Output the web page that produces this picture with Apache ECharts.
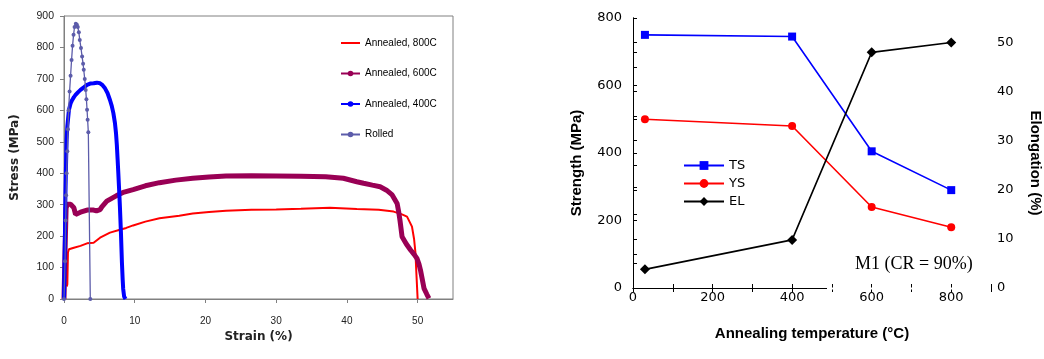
<!DOCTYPE html>
<html><head><meta charset="utf-8">
<script src="https://cdn.jsdelivr.net/npm/echarts@6/dist/echarts.min.js"></script>
<style>html,body{margin:0;padding:0;background:#fff}#c{width:1044px;height:359px}</style>
</head><body><div id="c"></div>
<script>
// ---- Left chart: stress-strain curves ----
const strain800 = [0.4, 0.47, 0.56, 0.7, 1.4, 2.33, 3.26, 4.19, 5.1, 6.5, 7.9, 8.8, 9.77, 11.5, 13.5, 16.3, 18.2, 20.5, 22.9, 26.5, 30, 33.5, 37.6, 41.4, 44.5, 46.6, 47.7, 48.5, 49.2, 49.5, 49.7, 49.8, 50.0];
const stress800 = [40, 47, 148, 158, 163, 169, 177, 179, 195, 211, 220, 226, 234, 246, 257, 265, 272, 277, 281, 284, 285, 287, 290, 286, 284, 278, 270, 262, 230, 190, 145, 92, 0];
const strain600 = [0, 0.1, 0.2, 0.3, 0.47, 0.93, 1.2, 1.4, 1.63, 2.33, 3.26, 4.19, 4.6, 4.88, 5.1, 5.35, 6.05, 7.44, 8.5, 9.77, 11.5, 13.5, 15.8, 18.2, 20.5, 22.9, 26.5, 30, 33.5, 37, 39.5, 41.4, 42.35, 43.6, 44.7, 45.6, 46.4, 47.1, 47.3, 47.5, 47.8, 48.4, 49, 49.5, 49.9, 50.2, 50.4, 50.9, 51.3, 51.6];
const stress600 = [0, 100, 200, 290, 301, 301, 296, 290, 269, 276, 283, 283, 280, 276, 284, 293, 311, 329, 340, 348, 360, 370, 378, 384, 388, 391, 392, 391, 390, 389, 384, 373, 368, 362, 357, 346, 331, 304, 280, 251, 198, 175, 156, 142, 129, 110, 92, 34, 15, 2];
const strain400 = [0, 0.09, 0.14, 0.2, 0.28, 0.37, 0.47, 0.7, 0.93, 1.16, 1.4, 1.63, 2.0, 2.33, 2.8, 3.26, 3.7, 4.19, 4.65, 5.1, 5.45, 5.8, 6.15, 6.5, 6.75, 6.98, 7.2, 7.35, 7.47, 7.58, 7.68, 7.77, 7.9, 8.05, 8.19, 8.3, 8.37, 8.5, 8.7];
const stress400 = [0, 0, 211, 330, 422, 507, 549, 602, 622, 633, 642, 649, 658, 665, 673, 681, 685, 686, 688, 686, 680, 670, 655, 633, 614, 591, 560, 528, 490, 444, 400, 359, 296, 211, 116, 60, 32, 8, 0];
const strainRolled = [0, 0.15, 0.23, 0.3, 0.37, 0.47, 0.56, 0.65, 0.79, 0.93, 1.07, 1.21, 1.35, 1.49, 1.67, 1.82, 1.95, 2.1, 2.23, 2.4, 2.56, 2.7, 2.79, 2.93, 3.07, 3.17, 3.26, 3.34, 3.44, 3.72];
const stressRolled = [0, 120, 250, 330, 400, 470, 540, 600, 660, 710, 760, 805, 840, 865, 875, 872, 865, 848, 824, 798, 771, 748, 729, 700, 665, 635, 602, 570, 530, 0];
const leftNames = ['Annealed, 800C', 'Annealed, 600C', 'Annealed, 400C', 'Rolled'];

// ---- Right chart: properties vs annealing temperature ----
const temps = [30, 400, 600, 800];
const tsValues = [750, 745, 405, 290];
const ysValues = [500, 480, 240, 180];
const elValues = [3.8, 9.8, 48, 50];
const rightNames = ['TS', 'YS', 'EL'];

const zip = (xs, ys) => xs.map((x, i) => [x, ys[i]]);

const sans = 'Liberation Sans, Arial, sans-serif';
const wide = 'DejaVu Sans, sans-serif';
const gray = '#808080';

const chart = echarts.init(document.getElementById('c'), null, {renderer: 'canvas'});
chart.setOption({
  animation: false,
  backgroundColor: '#fff',
  grid: [
    {left: 64, top: 16, right: 591, bottom: 60, show: true, borderColor: gray, borderWidth: 1},
    {left: 633, top: 18, right: 51, bottom: 71, show: false}
  ],
  xAxis: [
    {gridIndex: 0, type: 'value', min: 0, max: 55, interval: 10,
     name: 'Strain (%)', nameLocation: 'middle', nameGap: 31,
     nameTextStyle: {fontFamily: wide, fontWeight: 'bold', fontSize: 12, color: '#222'},
     axisLine: {lineStyle: {color: gray}}, axisTick: {show: true, length: 4, lineStyle: {color: gray}},
     axisLabel: {fontFamily: sans, fontSize: 10, color: '#222', margin: 17, showMaxLabel: false,
                 formatter: v => (v % 10 === 0 ? v : '')},
     splitLine: {show: false}},
    {gridIndex: 1, type: 'value', min: 0, max: 900, interval: 100,
     name: 'Annealing temperature (\u00b0C)', nameLocation: 'middle', nameGap: 38,
     nameTextStyle: {fontFamily: sans, fontWeight: 'bold', fontSize: 15, color: '#000'},
     axisLine: {lineStyle: {color: '#000', width: 1}}, axisTick: {inside: true, length: 4, lineStyle: {color: '#000'}},
     axisLabel: {fontFamily: wide, fontSize: 13, color: '#000', margin: 3,
                 formatter: v => (v % 200 === 0 && v <= 800 ? v : '')},
     splitLine: {show: false}},
    {gridIndex: 1, type: 'value', min: 0, max: 900, interval: 100, position: 'top',
     axisLine: {lineStyle: {color: '#000', width: 1}}, axisTick: {inside: true, length: 4, lineStyle: {color: '#000'}},
     axisLabel: {show: false}, splitLine: {show: false}}
  ],
  yAxis: [
    {gridIndex: 0, type: 'value', min: 0, max: 900, interval: 100,
     name: 'Stress (MPa)', nameLocation: 'middle', nameGap: 43,
     nameTextStyle: {fontFamily: wide, fontWeight: 'bold', fontSize: 12, color: '#222'},
     axisLine: {show: true, lineStyle: {color: gray}}, axisTick: {show: true, length: 4, lineStyle: {color: gray}},
     axisLabel: {fontFamily: sans, fontSize: 10.5, color: '#222', margin: 10},
     splitLine: {show: false}},
    {gridIndex: 1, type: 'value', min: 0, max: 800, interval: 100,
     name: 'Strength (MPa)', nameLocation: 'middle', nameGap: 49,
     nameTextStyle: {fontFamily: sans, fontWeight: 'bold', fontSize: 15, color: '#000', padding: [0, 20, 0, 0]},
     axisLine: {show: true, lineStyle: {color: '#000', width: 1}}, axisTick: {inside: true, length: 4, lineStyle: {color: '#000'}},
     axisLabel: {fontFamily: wide, fontSize: 13, color: '#000', margin: 11,
                 formatter: v => (v % 200 === 0 ? v : '')},
     splitLine: {show: false}},
    {gridIndex: 1, type: 'value', min: 0, max: 55, interval: 5, position: 'right',
     name: 'Elongation (%)', nameLocation: 'middle', nameGap: 37, nameRotate: -90,
     nameTextStyle: {fontFamily: sans, fontWeight: 'bold', fontSize: 15, color: '#000', padding: [0, 0, 0, 20]},
     axisLine: {show: true, lineStyle: {color: '#000', width: 1}}, axisTick: {length: 4, lineStyle: {color: '#000'}},
     axisLabel: {fontFamily: wide, fontSize: 13, color: '#000', margin: 6, showMaxLabel: false,
                 formatter: v => (v % 10 === 0 ? v : '')},
     splitLine: {show: false}}
  ],
  legend: [
    {data: [{name: leftNames[0], icon: 'path://M0,0H19V2H0Z'}, leftNames[1], leftNames[2], leftNames[3]],
     orient: 'vertical', left: 340, top: 38, padding: 0, itemWidth: 19, itemHeight: 7, itemGap: 20.5,
     textStyle: {fontFamily: sans, fontSize: 10, color: '#000'}},
    {data: rightNames, orient: 'vertical', left: 683, top: 159, padding: 0, itemWidth: 40, itemHeight: 11, itemGap: 5,
     textStyle: {fontFamily: wide, fontSize: 13, color: '#000'}}
  ],
  graphic: [
    {type: 'rect', left: 827, top: 287.6, shape: {width: 164, height: 1.8}, style: {fill: '#fff'}, z: 100},
    {type: 'text', left: 855, top: 255,
     style: {text: 'M1 (CR = 90%)', font: '18px "Liberation Serif", "Times New Roman", serif', fill: '#000'}}
  ],
  series: [
    {name: leftNames[0], type: 'line', xAxisIndex: 0, yAxisIndex: 0, data: zip(strain800, stress800),
     symbol: 'none', lineStyle: {color: '#ff0000', width: 2}, itemStyle: {color: '#ff0000'}, z: 2},
    {name: leftNames[1], type: 'line', xAxisIndex: 0, yAxisIndex: 0, data: zip(strain600, stress600),
     symbol: 'circle', symbolSize: 3, showSymbol: false, lineStyle: {color: '#990055', width: 5}, itemStyle: {color: '#990055'}, z: 3},
    {name: leftNames[2], type: 'line', xAxisIndex: 0, yAxisIndex: 0, data: zip(strain400, stress400),
     symbol: 'circle', symbolSize: 3, showSymbol: false, lineStyle: {color: '#0000ff', width: 4}, itemStyle: {color: '#0000ff'}, z: 4},
    {name: leftNames[3], type: 'line', xAxisIndex: 0, yAxisIndex: 0, data: zip(strainRolled, stressRolled),
     symbol: 'circle', symbolSize: 4, lineStyle: {color: '#5c5caa', width: 1.3}, itemStyle: {color: '#5c5caa'}, z: 5},

    {name: 'TS', type: 'line', xAxisIndex: 1, yAxisIndex: 1, data: zip(temps, tsValues),
     symbol: 'rect', symbolSize: 8, lineStyle: {color: '#0000ff', width: 1.6}, itemStyle: {color: '#0000ff'}},
    {name: 'YS', type: 'line', xAxisIndex: 1, yAxisIndex: 1, data: zip(temps, ysValues),
     symbol: 'circle', symbolSize: 8, lineStyle: {color: '#ff0000', width: 1.6}, itemStyle: {color: '#ff0000'}},
    {name: 'EL', type: 'line', xAxisIndex: 1, yAxisIndex: 2, data: zip(temps, elValues),
     symbol: 'diamond', symbolSize: 10, lineStyle: {color: '#000000', width: 1.6}, itemStyle: {color: '#000000'}}
  ]
});
</script></body></html>
